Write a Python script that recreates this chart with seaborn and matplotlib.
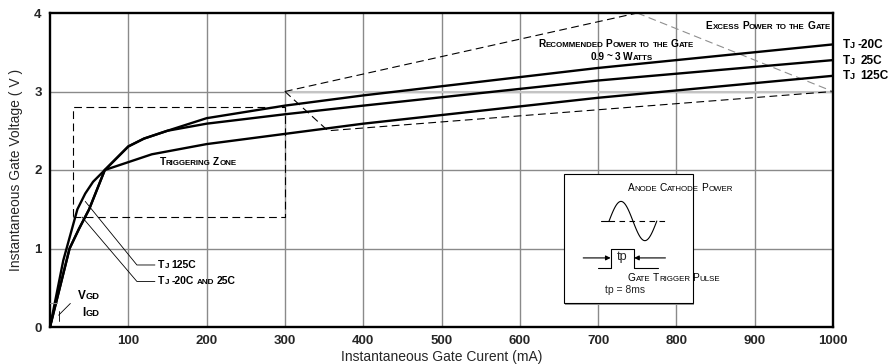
import numpy as np
import pandas as pd
import matplotlib
matplotlib.use("Agg")
import matplotlib.pyplot as plt
from matplotlib.patches import Rectangle
from matplotlib.offsetbox import TextArea, HPacker, AnnotationBbox
import seaborn as sns

# gate characteristic curves (mA, V)
current_m20 = [0, 25, 37, 50, 70, 100, 120, 150, 200, 300, 400, 700, 1000]
voltage_m20 = [0, 1.0, 1.25, 1.5, 2.0, 2.3, 2.4, 2.5, 2.66, 2.82, 2.95, 3.30, 3.6]
current_25 = [0, 25, 37, 50, 70, 100, 120, 150, 200, 300, 400, 700, 1000]
voltage_25 = [0, 1.0, 1.25, 1.5, 2.0, 2.3, 2.4, 2.5, 2.59, 2.71, 2.82, 3.14, 3.4]
current_125 = [0, 17, 35, 45, 55, 70, 130, 200, 300, 400, 700, 1000]
voltage_125 = [0, 0.85, 1.5, 1.7, 1.85, 2.0, 2.2, 2.33, 2.46, 2.59, 2.92, 3.2]

# dashed regions
zone_x = [30, 300, 300, 30, 30]
zone_y = [1.4, 1.4, 2.8, 2.8, 1.4]
rec_upper_x = [300, 750]
rec_upper_y = [3.0, 4.0]
rec_lower_x = [300, 355, 1000]
rec_lower_y = [3.0, 2.5, 3.0]
excess_x = [750, 1000]
excess_y = [4.0, 3.0]

x_ticks = [100, 200, 300, 400, 500, 600, 700, 800, 900, 1000]
y_ticks = [0, 1, 2, 3, 4]

df = pd.concat([
    pd.DataFrame({"I": current_m20, "V": voltage_m20, "Tj": "-20C"}),
    pd.DataFrame({"I": current_25, "V": voltage_25, "Tj": "25C"}),
    pd.DataFrame({"I": current_125, "V": voltage_125, "Tj": "125C"}),
])

sns.set_theme(style="white")
plt.rcParams["font.family"] = ["Liberation Sans", "DejaVu Sans"]

fig = plt.figure(figsize=(8.9, 3.64), dpi=100)
ax = fig.add_axes([50 / 890, 37 / 364, 783 / 890, 314 / 364])

for v in x_ticks[:-1]:
    ax.axvline(v, color="#8a8a8a", lw=1.0, zorder=0)
for v in y_ticks[1:-1]:
    ax.axhline(v, color="#8a8a8a", lw=1.0, zorder=0)
ax.plot([300, 1000], [3.0, 3.0], color="#c4c4c4", lw=1.5, zorder=0.5)

sns.lineplot(data=df, x="I", y="V", hue="Tj", palette=["black"] * 3,
             estimator=None, sort=False, lw=1.7, legend=False, ax=ax, zorder=3)

dash = (0, (7, 4))
ax.plot(zone_x, zone_y, color="black", lw=0.8, ls=dash, zorder=2)
ax.plot(rec_upper_x, rec_upper_y, color="black", lw=0.8, ls=dash, zorder=2)
ax.plot(rec_lower_x, rec_lower_y, color="black", lw=0.8, ls=dash, zorder=2)
ax.plot(excess_x, excess_y, color="#8f8f8f", lw=0.8, ls=dash, zorder=2)

ax.set_xlim(0, 1000)
ax.set_ylim(0, 4)
ax.set_xticks(x_ticks)
ax.set_yticks(y_ticks)
ax.tick_params(length=0, labelsize=9.5, pad=6)
for lab in ax.get_xticklabels() + ax.get_yticklabels():
    lab.set_fontweight("bold")
for s in ax.spines.values():
    s.set_color("black")
    s.set_linewidth(1.7)
ax.set_xlabel("Instantaneous Gate Curent (mA)", fontsize=10, labelpad=2)
ax.set_ylabel("Instantaneous Gate Voltage ( V )", fontsize=10, labelpad=8)


def small_caps(s, x, y, size, ha=0.0, weight="bold", color="black"):
    words = []
    for word in s.split(" "):
        runs = []
        for ch in word:
            small = ch.islower()
            if runs and runs[-1][1] == small:
                runs[-1][0] += ch
            else:
                runs.append([ch, small])
        kids = [TextArea(r.upper() if sm else r,
                         textprops=dict(size=size * (0.78 if sm else 1.0),
                                        weight=weight, color=color))
                for r, sm in runs]
        words.append(HPacker(children=kids, pad=0, sep=0, align="baseline"))
    pack = HPacker(children=words, pad=0, sep=size * 0.25, align="baseline")
    ab = AnnotationBbox(pack, (x, y), xycoords="data", frameon=False,
                        box_alignment=(ha, 0.5), pad=0, annotation_clip=False,
                        zorder=6)
    ax.add_artist(ab)


small_caps("Excess Power to the Gate", 997, 3.83, 7.3, ha=1.0)
small_caps("Recommended Power to the Gate", 723, 3.6, 7.3, ha=0.5)
small_caps("0.9 ~ 3 Watts", 730, 3.44, 7.3, ha=0.5)
small_caps("Triggering Zone", 189, 2.1, 7.3, ha=0.5)
small_caps("Tj -20C", 1012, 3.59, 8.5)
small_caps("Tj  25C", 1012, 3.39, 8.5)
small_caps("Tj  125C", 1012, 3.2, 8.5)
small_caps("Tj 125C", 138, 0.79, 7.5)
small_caps("Tj -20C and 25C", 138, 0.58, 7.5)
small_caps("Vgd", 36, 0.4, 8.5)
small_caps("Igd", 41, 0.18, 8.5)

# leaders
ax.plot([134, 111, 45], [0.79, 0.79, 1.6], color="black", lw=0.6, zorder=4)
ax.plot([134, 111, 41], [0.58, 0.58, 1.4], color="black", lw=0.6, zorder=4)
ax.plot([0, 9], [0.3, 0.3], color="#8a8a8a", lw=0.8, zorder=4)
ax.plot([11, 11], [0.08, 0.2], color="black", lw=0.6, zorder=4)
ax.plot([11, 26], [0.15, 0.3], color="black", lw=0.6, zorder=4)

# inset: anode cathode power / gate trigger pulse
ax.add_patch(Rectangle((658, 0.285), 165, 1.65, facecolor="#9a9a9a",
                       edgecolor="none", zorder=4))
ax.add_patch(Rectangle((656, 0.30), 165, 1.65, facecolor="white",
                       edgecolor="black", lw=0.8, zorder=5))
small_caps("Anode Cathode Power", 738, 1.77, 7.3, weight="normal")
t = np.linspace(0, 2 * np.pi, 80)
ax.plot(714 + 61 * t / (2 * np.pi), 1.35 + 0.25 * np.sin(t), color="black",
        lw=0.8, zorder=6)
ax.plot([704, 714], [1.35, 1.35], color="black", lw=0.8, zorder=6)
ax.plot([714, 786], [1.35, 1.35], color="black", lw=0.8, ls=(0, (5, 4)), zorder=6)
ax.plot([700, 716, 716, 746, 746, 776], [0.75, 0.75, 1.0, 1.0, 0.75, 0.75],
        color="black", lw=0.8, zorder=6)
ax.annotate("", xy=(716, 0.88), xytext=(681, 0.88),
            arrowprops=dict(arrowstyle="-|>", color="black", lw=0.8,
                            mutation_scale=7, shrinkA=0, shrinkB=0), zorder=6)
ax.annotate("", xy=(746, 0.88), xytext=(786, 0.88),
            arrowprops=dict(arrowstyle="-|>", color="black", lw=0.8,
                            mutation_scale=7, shrinkA=0, shrinkB=0), zorder=6)
ax.text(731, 0.89, "tp", ha="center", va="center", fontsize=9, zorder=6)
small_caps("Gate Trigger Pulse", 738, 0.62, 7.3, weight="normal")
ax.text(735, 0.47, "tp = 8ms", ha="center", va="center", fontsize=7.5, zorder=6)

fig.savefig("out.png", dpi=100)
